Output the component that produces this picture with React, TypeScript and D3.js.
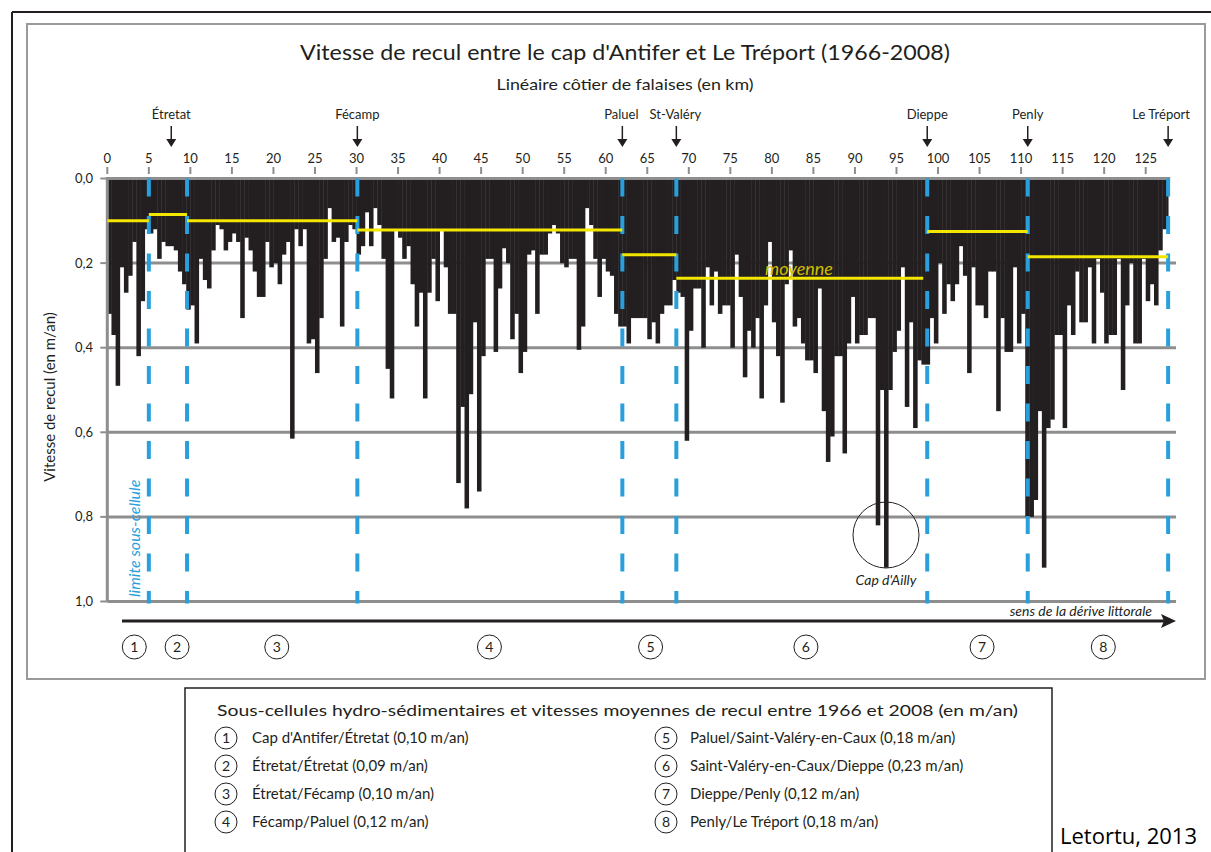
import React from "react";
import * as d3 from "d3";

// ---- DATA ----
const KM_STEP = 0.5;
const COAST_END_KM = 127.7;
// recession speed (m/yr) per 0.5 km of cliff, from km 0 (Cap d'Antifer)
const retreat = [
  0.32, 0.37, 0.49, 0.21, 0.27, 0.23, 0.15, 0.42, 0.29, 0.12,
  0.13, 0.12, 0.19, 0.15, 0.16, 0.16, 0.17, 0.22, 0.25, 0.31,
  0.30, 0.39, 0.19, 0.24, 0.26, 0.17, 0.11, 0.12, 0.17, 0.15,
  0.13, 0.15, 0.33, 0.14, 0.17, 0.22, 0.28, 0.28, 0.15, 0.21,
  0.20, 0.25, 0.18, 0.15, 0.615, 0.12, 0.16, 0.12, 0.39, 0.38,
  0.46, 0.33, 0.19, 0.07, 0.15, 0.14, 0.35, 0.15, 0.11, 0.12,
  0.18, 0.16, 0.08, 0.16, 0.07, 0.11, 0.19, 0.45, 0.52, 0.12,
  0.14, 0.19, 0.16, 0.25, 0.35, 0.27, 0.52, 0.27, 0.19, 0.29,
  0.12, 0.21, 0.32, 0.32, 0.72, 0.54, 0.78, 0.51, 0.34, 0.74,
  0.42, 0.19, 0.19, 0.41, 0.26, 0.165, 0.20, 0.38, 0.32, 0.46,
  0.41, 0.18, 0.17, 0.32, 0.18, 0.18, 0.13, 0.11, 0.13, 0.20,
  0.21, 0.19, 0.19, 0.405, 0.35, 0.07, 0.11, 0.19, 0.28, 0.19,
  0.22, 0.23, 0.32, 0.35, 0.35, 0.39, 0.33, 0.33, 0.33, 0.33,
  0.38, 0.34, 0.39, 0.32, 0.30, 0.30, 0.24, 0.27, 0.28, 0.62,
  0.36, 0.26, 0.26, 0.40, 0.21, 0.30, 0.22, 0.32, 0.30, 0.30,
  0.40, 0.18, 0.28, 0.47, 0.36, 0.40, 0.33, 0.52, 0.30, 0.15,
  0.34, 0.42, 0.53, 0.25, 0.17, 0.35, 0.33, 0.39, 0.43, 0.43,
  0.46, 0.26, 0.55, 0.67, 0.61, 0.42, 0.42, 0.65, 0.39, 0.28,
  0.39, 0.37, 0.37, 0.33, 0.33, 0.82, 0.50, 0.92, 0.50, 0.41,
  0.36, 0.21, 0.54, 0.34, 0.59, 0.43, 0.44, 0.44, 0.33, 0.39,
  0.20, 0.32, 0.25, 0.29, 0.25, 0.16, 0.23, 0.46, 0.21, 0.30,
  0.30, 0.33, 0.22, 0.22, 0.55, 0.33, 0.41, 0.41, 0.21, 0.39,
  0.32, 0.80, 0.80, 0.76, 0.55, 0.92, 0.59, 0.57, 0.37, 0.37,
  0.59, 0.30, 0.37, 0.22, 0.34, 0.34, 0.21, 0.39, 0.19, 0.27,
  0.39, 0.37, 0.37, 0.19, 0.50, 0.30, 0.20, 0.39, 0.39, 0.19,
  0.29, 0.25, 0.30, 0.17, 0.12, 0.10,
];

const boundaries = [0, 5.0, 9.6, 30.1, 62.0, 68.5, 98.7, 110.8, 127.7];
const subcellMeans = [0.10, 0.085, 0.10, 0.122, 0.18, 0.236, 0.125, 0.185];
const subcellIds = ["1", "2", "3", "4", "5", "6", "7", "8"];
const subcellLabelKm = [3.25, 8.4, 20.4, 46.0, 65.4, 84.1, 105.3, 119.9];

const towns = ["Étretat", "Fécamp", "Paluel", "St-Valéry", "Dieppe", "Penly", "Le Tréport"];
const townKm = [7.7, 30.1, 62.0, 68.5, 98.7, 110.8, 127.7];

const xTicks = [0, 5, 10, 15, 20, 25, 30, 35, 40, 45, 50, 55, 60, 65, 70, 75, 80, 85, 90, 95, 100, 105, 110, 115, 120, 125];
const yTicks = [0, 0.2, 0.4, 0.6, 0.8, 1.0];
const yTickLabels = ["0,0", "0,2", "0,4", "0,6", "0,8", "1,0"];

const legendLeft = [
  "Cap d'Antifer/Étretat (0,10 m/an)",
  "Étretat/Étretat (0,09 m/an)",
  "Étretat/Fécamp (0,10 m/an)",
  "Fécamp/Paluel (0,12 m/an)",
];
const legendRight = [
  "Paluel/Saint-Valéry-en-Caux (0,18 m/an)",
  "Saint-Valéry-en-Caux/Dieppe (0,23 m/an)",
  "Dieppe/Penly (0,12 m/an)",
  "Penly/Le Tréport (0,18 m/an)",
];

const TITLE = "Vitesse de recul entre le cap d'Antifer et Le Tréport (1966-2008)";
const SUBTITLE = "Linéaire côtier de falaises (en km)";
const LEGEND_TITLE = "Sous-cellules hydro-sédimentaires et vitesses moyennes de recul entre 1966 et 2008 (en m/an)";

// ---- STYLE ----
const FONT = "Lato, 'Open Sans', sans-serif";
const INK = "#231f20";
const GRID = "#8e8e8e";
const BLUE = "#29a0dc";
const YELLOW = "#f3e600";

export default function App() {
  const x = d3.scaleLinear().domain([0, 125]).range([107.3, 1145.7]);
  const y = d3.scaleLinear().domain([0, 1]).range([178.5, 601.5]);
  const xEnd = x(COAST_END_KM);

  const bars = retreat.map((v, i) => {
    const k0 = i * KM_STEP;
    const k1 = Math.min(k0 + KM_STEP, COAST_END_KM);
    return { k0, k1, v };
  });

  const arrowHead = (cx: number, tipY: number, s = 5) =>
    `M${cx - s},${tipY - 8} L${cx + s},${tipY - 8} L${cx},${tipY} Z`;

  return (
    <svg
      width={1211}
      height={852}
      style={{ position: "absolute", left: 0, top: 0, display: "block", background: "#fff" }}
      fontFamily={FONT}
    >
      {/* frames */}
      <line x1={12} y1={12} x2={1211} y2={12} stroke={INK} strokeWidth={2} />
      <line x1={12} y1={12} x2={12} y2={852} stroke={INK} strokeWidth={2} />
      <rect x={27} y={24} width={1178} height={655} fill="none" stroke="#9a9a9a" strokeWidth={2} />

      {/* titles */}
      <text x={625} y={60} textAnchor="middle" fontSize={22} fill={INK} textLength={650} lengthAdjust="spacingAndGlyphs">
        {TITLE}
      </text>
      <text x={625} y={90} textAnchor="middle" fontSize={15} fill={INK} textLength={257} lengthAdjust="spacingAndGlyphs">
        {SUBTITLE}
      </text>

      {/* town labels + arrows */}
      {towns.map((t, i) => {
        const cx = x(townKm[i]);
        const anchorRight = i === towns.length - 1;
        return (
          <g key={t}>
            <text
              x={anchorRight ? 1190 : i === 2 ? cx - 1 : i === 3 ? cx - 1 : cx}
              y={119}
              textAnchor={anchorRight ? "end" : "middle"}
              fontSize={13}
              fill={INK}
            >
              {t}
            </text>
            <line x1={cx} y1={126} x2={cx} y2={140} stroke={INK} strokeWidth={1.5} />
            <path d={arrowHead(cx, 147)} fill={INK} />
          </g>
        );
      })}

      {/* top axis tick labels & ticks */}
      {xTicks.map((t) => (
        <g key={t}>
          <text x={x(t)} y={163} textAnchor="middle" fontSize={13} fill={INK}>
            {t}
          </text>
          <rect x={x(t) - 1} y={167} width={2} height={7} fill={GRID} />
        </g>
      ))}

      {/* gridlines */}
      {yTicks.slice(1).map((t) => (
        <line key={t} x1={x(0)} x2={1176} y1={y(t)} y2={y(t)} stroke={GRID} strokeWidth={3} />
      ))}

      {/* bars */}
      <g fill={INK}>
        {bars.map((b, i) => (
          <rect key={i} x={x(b.k0)} y={y(0)} width={x(b.k1) - x(b.k0) + 0.4} height={y(b.v) - y(0)} />
        ))}
      </g>

      {/* axes lines */}
      <line x1={x(0) - 1.5} x2={xEnd + 2} y1={y(0)} y2={y(0)} stroke={GRID} strokeWidth={3} />
      <line x1={x(0)} x2={x(0)} y1={y(0)} y2={y(1)} stroke={GRID} strokeWidth={3} />
      {yTicks.map((t, i) => (
        <g key={t}>
          <line x1={x(0) - 7} x2={x(0)} y1={y(t)} y2={y(t)} stroke={GRID} strokeWidth={2} />
          <text x={93} y={y(t) + 4.5} textAnchor="end" fontSize={13} fill={INK}>
            {yTickLabels[i]}
          </text>
        </g>
      ))}

      {/* subcell boundaries */}
      {boundaries.slice(1).map((b) => (
        <line
          key={b}
          x1={x(b)}
          x2={x(b)}
          y1={y(0)}
          y2={y(1) + 2}
          stroke={BLUE}
          strokeWidth={4}
          strokeDasharray="18 19.5"
        />
      ))}

      {/* subcell means */}
      {subcellMeans.map((m, i) => (
        <line
          key={i}
          x1={x(boundaries[i])}
          x2={x(boundaries[i + 1]) - (i === 5 ? 4 : 0)}
          y1={y(m)}
          y2={y(m)}
          stroke={YELLOW}
          strokeWidth={3}
        />
      ))}
      <text x={799} y={275} textAnchor="middle" fontSize={18} fontStyle="italic" fill="#d2be00">
        moyenne
      </text>

      {/* Cap d'Ailly */}
      <circle cx={886} cy={535} r={33} fill="none" stroke={INK} strokeWidth={1} />
      <text x={886} y={585} textAnchor="middle" fontSize={14} fontStyle="italic" fill={INK}>
        Cap d'Ailly
      </text>

      {/* axis title */}
      <text transform="translate(55,397) rotate(-90)" textAnchor="middle" fontSize={15} fill={INK}>
        Vitesse de recul (en m/an)
      </text>
      <text transform="translate(140,597) rotate(-90)" textAnchor="start" fontSize={16} fontStyle="italic" fill={BLUE}>
        limite sous-cellule
      </text>

      {/* drift arrow */}
      <line x1={122} x2={1165} y1={621} y2={621} stroke={INK} strokeWidth={3} />
      <path d="M1176,621 L1161,614 L1164,621 L1161,628 Z" fill={INK} />
      <text x={1152} y={616} textAnchor="end" fontSize={14} fontStyle="italic" fill={INK}>
        sens de la dérive littorale
      </text>

      {/* subcell numbers */}
      {subcellIds.map((id, i) => (
        <g key={id}>
          <circle cx={x(subcellLabelKm[i])} cy={647} r={12} fill="none" stroke={INK} strokeWidth={1} />
          <text x={x(subcellLabelKm[i])} y={652} textAnchor="middle" fontSize={14} fill={INK}>
            {id}
          </text>
        </g>
      ))}

      {/* legend */}
      <rect x={185} y={688} width={867} height={170} fill="none" stroke={INK} strokeWidth={1.5} />
      <text x={217} y={716} fontSize={16} fill={INK} textLength={801} lengthAdjust="spacingAndGlyphs">
        {LEGEND_TITLE}
      </text>
      {legendLeft.map((t, i) => (
        <g key={t}>
          <circle cx={226} cy={738 + i * 28} r={11} fill="none" stroke={INK} strokeWidth={1} />
          <text x={226} y={743 + i * 28} textAnchor="middle" fontSize={14} fill={INK}>
            {subcellIds[i]}
          </text>
          <text x={252} y={743 + i * 28} fontSize={15} fill={INK}>
            {t}
          </text>
        </g>
      ))}
      {legendRight.map((t, i) => (
        <g key={t}>
          <circle cx={666} cy={738 + i * 28} r={11} fill="none" stroke={INK} strokeWidth={1} />
          <text x={666} y={743 + i * 28} textAnchor="middle" fontSize={14} fill={INK}>
            {subcellIds[i + 4]}
          </text>
          <text x={690} y={743 + i * 28} fontSize={15} fill={INK}>
            {t}
          </text>
        </g>
      ))}

      <text x={1060} y={844} fontSize={22} fill="#000" fontFamily="'Open Sans', sans-serif">
        Letortu, 2013
      </text>
    </svg>
  );
}
